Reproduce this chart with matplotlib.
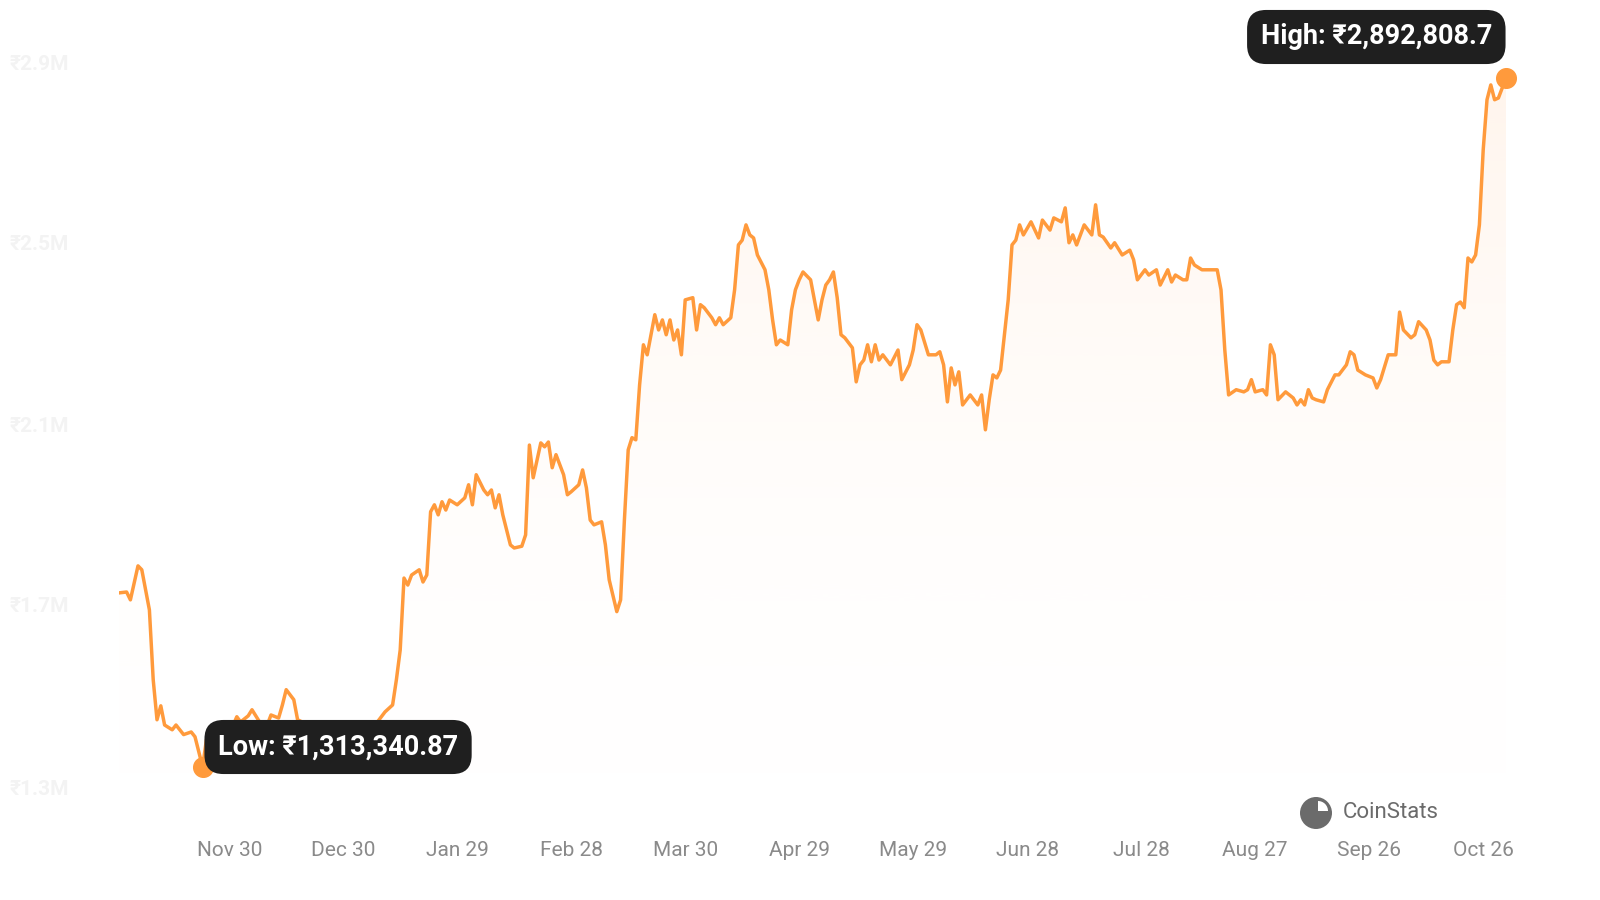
import numpy as np
import pandas as pd
import matplotlib
matplotlib.use("Agg")
import matplotlib.pyplot as plt
from matplotlib.patches import Circle, Wedge

plt.rcParams['font.family'] = ['Roboto', 'DejaVu Sans']

start = pd.Timestamp("2022-11-01")
days = [0,2,3,5,6,8,9,10,11,12,14,15,17,19,20,22,23,25,27,29,31,32,34,35,37,39,40,42,43,44,46,47,
        52,57,62,66,68,70,72,73,74,75,76,77,79,80,81,82,83,84,85,86,87,89,91,92,93,94,96,97,98,99,100,101,
        103,104,106,107,108,109,111,112,113,114,115,117,118,119,121,122,123,124,125,127,128,129,131,132,133,134,
        135,136,137,138,139,141,142,143,144,145,146,147,148,149,151,152,153,154,156,157,158,159,161,162,163,164,
        165,166,167,168,170,171,172,173,174,176,177,178,179,180,182,183,184,185,186,187,188,189,190,191,193,194,
        195,196,197,198,199,200,201,203,205,206,208,209,210,211,213,215,216,217,218,219,220,221,222,224,226,227,
        228,229,230,231,232,234,235,236,237,238,240,242,243,245,246,248,249,250,251,252,254,256,257,258,259,261,
        262,264,266,267,268,270,271,273,274,276,277,278,280,281,282,283,285,287,289,290,291,292,294,296,297,298,
        299,301,302,303,304,305,307,309,310,311,312,313,314,315,317,318,320,321,323,324,325,326,328,330,331,332,
        334,336,337,338,340,341,342,344,345,346,347,348,350,351,352,353,354,355,356,357,358,359,360,361,362,363,364,365]
prices_k = [1712,1714,1696,1774,1765,1673,1513,1421,1453,1409,1398,1409,1387,1393,1382,1313,1375,1364,1398,1387,1428,1416,1430,1444,1416,1409,1432,1425,1455,1490,1467,1421,
        1400,1390,1395,1405,1416,1439,1455,1513,1581,1746,1730,1753,1765,1737,1753,1898,1914,1891,1921,1902,1925,1914,1930,1960,1914,1983,1948,1937,1948,1907,1937,1891,
        1822,1815,1819,1845,2051,1976,2056,2047,2058,1999,2029,1983,1937,1944,1960,1994,1953,1879,1868,1875,1822,1742,1669,1696,1879,2040,
        2068,2063,2189,2281,2258,2350,2315,2338,2304,2338,2292,2315,2258,2384,2389,2315,2373,2366,2343,2327,2343,2327,2343,2407,2510,2521,
        2556,2533,2526,2487,2453,2407,2338,2281,2292,2281,2361,2407,2430,2448,2430,2384,2338,2384,2418,2430,2448,2389,2304,2297,2274,2196,
        2235,2246,2281,2242,2281,2246,2258,2235,2269,2201,2235,2269,2327,2315,2258,2258,2265,2235,2150,2228,2189,2219,2143,2166,2143,2166,
        2086,2155,2212,2205,2223,2384,2510,2521,2556,2533,2563,2526,2567,2544,2572,2563,2595,2515,2533,2510,2556,2533,2602,2533,2528,2503,
        2515,2487,2498,2476,2430,2453,2441,2453,2418,2453,2425,2441,2430,2430,2480,2464,2453,2453,2453,2407,2269,2166,2178,2173,2178,2201,
        2173,2178,2166,2281,2258,2155,2173,2159,2143,2155,2143,2178,2159,2155,2150,2178,2212,2212,2235,2265,2258,2223,2212,2205,2182,2201,
        2258,2258,2356,2315,2297,2304,2334,2315,2292,2246,2235,2242,2242,2315,2373,2379,2366,2480,2471,2487,2556,2728,2843,2877,2843,2847,2870,2892.8087]
tick_labels = ["Nov 30","Dec 30","Jan 29","Feb 28","Mar 30","Apr 29","May 29","Jun 28","Jul 28","Aug 27","Sep 26","Oct 26"]
ytick_labels = ["₹1.3M","₹1.7M","₹2.1M","₹2.5M","₹2.9M"]
ytick_vals_k = [1260, 1680, 2093, 2510, 2923]
low_text = "Low: ₹1,313,340.87"
high_text = "High: ₹2,892,808.7"

x = np.array([start + pd.Timedelta(days=d) for d in days])
y = np.array(prices_k) * 1000.0
orange = "#ff9a3c"

fig = plt.figure(figsize=(16, 9), dpi=100)
ax = fig.add_axes([119/1600, 1-800/900, (1506-119)/1600, 760/900])
xn = matplotlib.dates.date2num(x)
ylo = 1237e3
yhi = 2980e3

fill_bottom = 1300e3
poly = ax.fill_between(xn, y, fill_bottom, color="none", lw=0)
grad = np.linspace(0.03, 0.32, 256).reshape(-1, 1)
cmap = matplotlib.colors.LinearSegmentedColormap.from_list("g", [(1,1,1,0),(1,0.62,0.3,1)])
img = ax.imshow(grad, aspect="auto", cmap=cmap, vmin=0, vmax=1, origin="lower",
                extent=[xn[0], xn[-1], fill_bottom, y.max()], zorder=1)
img.set_clip_path(poly.get_paths()[0], transform=ax.transData)
ax.plot(xn, y, color=orange, lw=2.5, zorder=3, solid_joinstyle="round")

ax.set_xlim(xn[0], xn[-1]); ax.set_ylim(ylo, yhi)
for s in ax.spines.values():
    s.set_visible(False)
ax.set_xticks([])
ax.set_yticks([])

ytr = matplotlib.transforms.blended_transform_factory(fig.transFigure, ax.transData)
for v, t in zip(ytick_vals_k, ytick_labels):
    ax.text(10/1600, v*1000, t, transform=ytr,
            color="#f3f3f3", fontsize=15, va="center", ha="left", fontweight="bold")

xtr = matplotlib.transforms.blended_transform_factory(ax.transData, fig.transFigure)
for t in tick_labels:
    d = pd.Timestamp(("2022 " if t.startswith(("Nov","Dec")) else "2023 ") + t)
    ax.text(matplotlib.dates.date2num(d), 1-850/900, t, transform=xtr,
            ha="center", va="center", color="#8a8a8a", fontsize=15)

il = int(np.argmin(y)); ih = int(np.argmax(y))
ax.scatter([xn[il], xn[ih]], [y[il], y[ih]], s=200, color=orange, zorder=5, clip_on=False)
box = dict(boxstyle="round,pad=0.5,rounding_size=0.7", fc="#1f1f1f", ec="none")
ax.annotate(low_text, (xn[il], y[il]), xytext=(218/1600, 1-747/900), textcoords="figure fraction",
            color="white", fontsize=19.5, fontweight="bold", va="center", ha="left", bbox=box, zorder=6)
ax.annotate(high_text, (xn[ih], y[ih]), xytext=(1492/1600, 1-37/900), textcoords="figure fraction",
            color="white", fontsize=19.5, fontweight="bold", va="center", ha="right", bbox=box, zorder=6)

fig.text(1343/1600, 1-813/900, "CoinStats", color="#6b6b6b", fontsize=16, va="center", ha="left")
lx, ly = 1316/1600, 1-813/900
fig.patches.append(Circle((lx*16, ly*9), 0.16, transform=fig.dpi_scale_trans, fc="#6b6b6b", ec="none"))
fig.patches.append(Wedge((lx*16+0.02, ly*9+0.02), 0.1, 0, 90, transform=fig.dpi_scale_trans, fc="white", ec="none"))

fig.savefig("out.png", dpi=100, facecolor="white")
